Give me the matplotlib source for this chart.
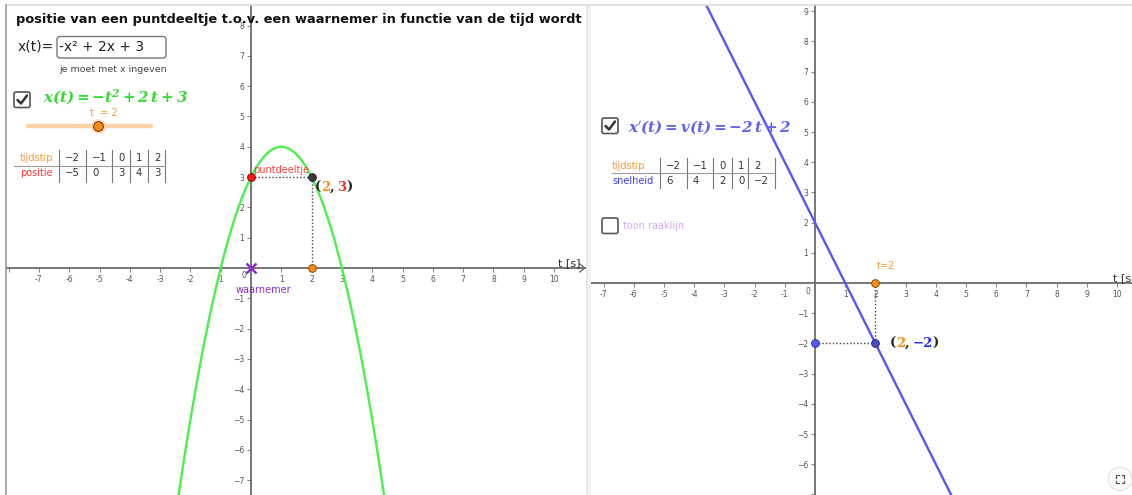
import numpy as np
import matplotlib
matplotlib.use("Agg")
import matplotlib.pyplot as plt
from matplotlib.patches import FancyBboxPatch, Rectangle, Circle

plt.rcParams["font.family"] = ["DejaVu Sans"]
plt.rcParams["mathtext.fontset"] = "dejavuserif"

W, H = 1132, 495

# position of the particle: x(t) = a*t^2 + b*t + c
coef_a, coef_b, coef_c = -1, 2, 3
t_now = 2
slider_min, slider_max = -2, 5

table_t = [-2, -1, 0, 1, 2]
table_pos = [-5, 0, 3, 4, 3]
table_vel = [6, 4, 2, 0, -2]

left_xticks = list(range(-8, 11))
left_yticks = list(range(-7, 9))
right_xticks = list(range(-7, 11))
right_yticks = list(range(-7, 10))

title_text = "positie van een puntdeeltje t.o.v. een waarnemer in functie van de tijd wordt"
input_label = "x(t)="
input_value = "-x² + 2x + 3"
hint_text = "je moet met x ingeven"
pos_formula = r"$\mathbfit{x(t) = -t^{2} + 2\,t + 3}$"
vel_formula = r"$\mathbfit{x}'\mathbfit{(t) = v(t) = -2\,t + 2}$"

GREEN_LINE = "#4cf04c"
GREEN_TEXT = "#33dd33"
BLUE_LINE = "#5656ff"
BLUE_TEXT = "#6262f0"
ORANGE = "#ff8c1a"
ORANGE_TXT = "#ff9933"
RED = "#ff2a2a"
PURPLE = "#8a2fc8"
AXIS = "#6b6b6b"


def pos(t):
    return coef_a * np.asarray(t) ** 2 + coef_b * np.asarray(t) + coef_c


def vel(t):
    return 2 * coef_a * np.asarray(t) + coef_b


def mstr(v):
    return str(v).replace("-", "\u2212")


fig = plt.figure(figsize=(W / 100, H / 100), dpi=100)
fig.patch.set_facecolor("white")


def make_panel(px0, px1, ox, oy, unit, xticks, yticks, blank_x=(), blank_y=()):
    ax = fig.add_axes([px0 / W, 0, (px1 - px0) / W, (H - 5) / H])
    ax.set_xlim((px0 - ox) / unit, (px1 - ox) / unit)
    ax.set_ylim((oy - H) / unit, (oy - 5) / unit)
    ax.set_facecolor("none")
    for s in ("top", "right"):
        ax.spines[s].set_visible(False)
    for s in ("left", "bottom"):
        ax.spines[s].set_position(("data", 0))
        ax.spines[s].set_color(AXIS)
        ax.spines[s].set_linewidth(1.3)
    xt = [t for t in xticks if t != 0]
    yt = [t for t in yticks if t != 0]
    ax.set_xticks(xt)
    ax.set_xticklabels(["" if t in blank_x else str(t) for t in xt])
    ax.set_yticks(yt)
    ax.set_yticklabels(["" if t in blank_y else mstr(t) for t in yt])
    ax.tick_params(direction="out", length=3, width=0.8, color="#8a8a8a",
                   labelsize=5.5, labelcolor="#555555", pad=2)
    ax.annotate("0", xy=(0, 0), xytext=(-7, -8), textcoords="offset pixels",
                fontsize=5.5, color="#555555", ha="center", va="center")
    return ax


def colored_label(ax, xy, offset, parts, size=9.5):
    prev = ax.annotate(parts[0][0], xy=xy, xytext=offset, textcoords="offset pixels",
                       color=parts[0][1], fontsize=size, family="DejaVu Serif",
                       weight="bold", ha="left", va="center", zorder=7)
    for s, c in parts[1:]:
        prev = ax.annotate(s, xy=(1, 0), xycoords=prev, color=c, fontsize=size,
                           family="DejaVu Serif", weight="bold", ha="left",
                           va="bottom", zorder=7)


# ---------- left panel: position ----------
axL = make_panel(6, 587, 251, 268, 30.3, left_xticks, left_yticks, blank_x=(-8,))
tL = np.linspace(-8.5, 11.5, 600)
axL.plot(tL, pos(tL), color=GREEN_LINE, lw=1.7, zorder=3)
axL.plot([10.85, 11.02, 10.85], [0.13, 0, -0.13], color=AXIS, lw=1.0)
axL.text(10.13, 0.17, "t [s]", fontsize=8, color="#333333", ha="left", va="center")

xp = float(pos(t_now))
axL.plot([0, t_now], [xp, xp], color="#444444", lw=1.0, ls=(0, (1, 1.5)), zorder=4)
axL.plot([t_now, t_now], [xp, 0], color="#444444", lw=1.0, ls=(0, (1, 1.5)), zorder=4)
axL.plot([0], [xp], "o", ms=5.5, mfc="#ff1a1a", mec="#8b0000", mew=0.7, zorder=6)
axL.plot([t_now], [xp], "o", ms=5.5, mfc="#3a3a3a", mec="#222222", mew=0.7, zorder=6)
axL.plot([t_now], [0], "o", ms=5.5, mfc=ORANGE, mec="#8a4a00", mew=0.7, zorder=6)
axL.plot([0], [0], "x", ms=6.5, mew=1.8, color=PURPLE, zorder=6)
axL.annotate("puntdeeltje", xy=(0, xp), xytext=(2, 7), textcoords="offset pixels",
             fontsize=7, color="#ff4040", ha="left", va="center", zorder=7)
axL.annotate("waarnemer", xy=(0, 0), xytext=(12, -22), textcoords="offset pixels",
             fontsize=7, color=PURPLE, ha="center", va="center", zorder=7)
colored_label(axL, (t_now, xp), (3, -10),
              [("(", "#222222"), (str(t_now), ORANGE), (",\u2009", "#222222"),
               (mstr(int(xp)), RED), (")", "#222222")])

# ---------- right panel: velocity ----------
axR = make_panel(591, W, 815, 283, 30.2, right_xticks, right_yticks, blank_y=(-7,))
tR = np.linspace(-8, 11, 50)
axR.plot(tR, vel(tR), color=BLUE_LINE, lw=1.7, zorder=3)
axR.text(9.87, 0.17, "t [s]", fontsize=8, color="#333333", ha="left", va="center",
         clip_on=True)
vv = float(vel(t_now))
axR.plot([0, t_now], [vv, vv], color="#444444", lw=1.0, ls=(0, (1, 1.5)), zorder=4)
axR.plot([t_now, t_now], [vv, 0], color="#444444", lw=1.0, ls=(0, (1, 1.5)), zorder=4)
axR.plot([0], [vv], "o", ms=5.5, mfc="#5a5aff", mec="#262699", mew=0.7, zorder=6)
axR.plot([t_now], [vv], "o", ms=5.5, mfc="#4d4dcc", mec="#262680", mew=0.7, zorder=6)
axR.plot([t_now], [0], "o", ms=5.5, mfc=ORANGE, mec="#8a4a00", mew=0.7, zorder=6)
axR.annotate(f"t={t_now}", xy=(t_now, 0), xytext=(1, 17), textcoords="offset pixels",
             fontsize=7, color=ORANGE_TXT, ha="left", va="center", zorder=7)
colored_label(axR, (t_now, vv), (14, 0),
              [("(", "#222222"), (str(t_now), ORANGE), (",\u2009", "#222222"),
               (mstr(int(vv)), "#2b2bff"), (")", "#222222")])

# ---------- overlay with the interface widgets (pixel coordinates) ----------
ov = fig.add_axes([0, 0, 1, 1], zorder=10)
ov.set_xlim(0, W)
ov.set_ylim(H, 0)
ov.axis("off")
ov.patch.set_visible(False)

# frame lines and panel divider
ov.plot([6, W], [5, 5], color="#dddddd", lw=1.2)
ov.plot([6, 6], [5, H], color="#9a9a9a", lw=1.2)
ov.add_patch(Rectangle((586, 5), 4.5, H - 5, fc="#f0f0f0", ec="none"))
ov.plot([586, 586], [5, H], color="#dedede", lw=0.8)

# title, clipped at the panel border
clip = Rectangle((6, 0), 580, H, transform=ov.transData, visible=False)
ov.add_patch(clip)
title = ov.text(16, 19, title_text, fontsize=9.35, weight="bold", color="#111111",
                ha="left", va="center", clip_on=True)
title.set_clip_path(clip)

# input field
ov.text(18, 47, input_label, fontsize=10, color="#222222", ha="left", va="center")
ov.add_patch(FancyBboxPatch((57, 36.5), 109, 21.5, boxstyle="round,pad=0,rounding_size=3",
                            fc="white", ec="#777777", lw=1.0))
ov.text(59, 47, input_value, fontsize=10, color="#222222", ha="left", va="center")
ov.text(59, 70, hint_text, fontsize=6.8, color="#444444", ha="left", va="center")


def checkbox(x, y, checked):
    ov.add_patch(FancyBboxPatch((x, y), 16, 15.5, boxstyle="round,pad=0,rounding_size=2",
                                fc="white", ec="#555555", lw=1.2))
    if checked:
        ov.plot([x + 3.5, x + 7, x + 13], [y + 8, y + 11.5, y + 3.5], color="#333333",
                lw=1.8, solid_capstyle="round", solid_joinstyle="round")


checkbox(14, 92, True)
ov.text(43, 97, pos_formula, fontsize=10.9, color=GREEN_TEXT, ha="left", va="center")

# slider for t
sx0, sx1, sy = 28, 151, 126
ov.plot([sx0, sx1], [sy, sy], color="#ffd2a6", lw=3.2, solid_capstyle="round")
knob = sx0 + (t_now - slider_min) / (slider_max - slider_min) * (sx1 - sx0)
ov.plot([knob], [sy], "o", ms=11, mfc="#ffe0c2", mec="none", alpha=0.9)
ov.plot([knob], [sy], "o", ms=7, mfc=ORANGE, mec="#7a3d00", mew=0.8)
ov.text(knob + 6, 113, f"t  = {t_now}", fontsize=7, color=ORANGE_TXT, ha="center",
        va="center")


def value_table(seps, label_x, line_x0, y0, y1, yline, row1_y, row2_y,
                label2, color2, values2):
    for xs in seps:
        ov.plot([xs, xs], [y0, y1], color="#777777", lw=0.8)
    ov.plot([line_x0, seps[-1]], [yline, yline], color="#999999", lw=0.8)
    ov.text(label_x, row1_y, "tijdstip", fontsize=7, color=ORANGE_TXT, ha="left",
            va="center")
    ov.text(label_x, row2_y, label2, fontsize=7, color=color2, ha="left", va="center")
    for i, (tv, v) in enumerate(zip(table_t, values2)):
        xl = seps[i] + 6
        ov.text(xl, row1_y, mstr(tv), fontsize=7.3, color="#333333", ha="left", va="center")
        ov.text(xl, row2_y, mstr(v), fontsize=7.3, color="#333333", ha="left", va="center")


value_table([59, 86, 112, 130, 148, 165], 20, 14, 150, 182, 166, 158, 173,
            "positie", "#ff3333", table_pos)

checkbox(602, 118, True)
ov.text(628, 127, vel_formula, fontsize=10.9, color=BLUE_TEXT, ha="left", va="center")
value_table([660, 687, 713, 732, 748, 775], 612, 612, 158, 188, 173, 166, 181,
            "snelheid", "#3d3dff", table_vel)

checkbox(602, 218, False)
ov.text(623, 226, "toon raaklijn", fontsize=7, color="#d6a8ff", ha="left", va="center")

# fullscreen button
ov.add_patch(Circle((1120, 479), 12.5, fc="#eeeeee", ec="none", alpha=0.6))
ov.add_patch(Circle((1120, 479), 11.5, fc="white", ec="#e4e4e4", lw=0.8))
for dx in (-1, 1):
    for dy in (-1, 1):
        cx, cy = 1120 + 4 * dx, 479 + 4 * dy
        ov.plot([cx - 2.5 * dx, cx, cx], [cy, cy, cy - 2.5 * dy], color="#555555", lw=0.9)

fig.savefig("out.png", dpi=100, facecolor="white")
